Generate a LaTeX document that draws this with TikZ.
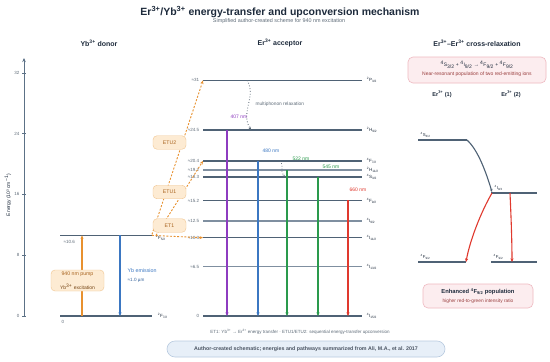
\documentclass[tikz,border=0pt]{standalone}
\usepackage{fontspec}
\setmainfont{Liberation Sans}
\usetikzlibrary{arrows.meta,calc}
\definecolor{navy}{HTML}{1E2B3C}
\definecolor{lvl}{HTML}{4F6275}
\definecolor{lvllt}{HTML}{7F8FA0}
\definecolor{axisc}{HTML}{5C7186}
\definecolor{orng}{HTML}{E8912F}
\definecolor{orbrown}{HTML}{A8631E}
\definecolor{orfill}{HTML}{FDEBD3}
\definecolor{ordraw}{HTML}{F1C58F}
\definecolor{bluec}{HTML}{3B77C2}
\definecolor{purp}{HTML}{8E3CC0}
\definecolor{grn}{HTML}{2A9A4C}
\definecolor{redc}{HTML}{E0392E}
\definecolor{pinkfill}{HTML}{FCEDEF}
\definecolor{pinkdraw}{HTML}{EEB9C0}
\definecolor{darkred}{HTML}{9A3F3F}
\definecolor{pillfill}{HTML}{E7EFF8}
\definecolor{pilldraw}{HTML}{B9CBE0}
\definecolor{graytxt}{HTML}{5E6B78}
\newcommand\fsz[1]{\fontsize{#1}{#1}\selectfont}
\newcommand\trm[3]{\textsuperscript{#1}#2\textsubscript{#3}}
\newcommand\ion[1]{#1\textsuperscript{3+}}
\tikzset{
  level/.style={draw=lvl, line width=1.4pt},
  levellt/.style={draw=lvllt, line width=1.2pt},
  llbl/.style={font=\fsz{4.5}, text=graytxt, inner sep=0.6pt, anchor=east},
  rlbl/.style={font=\fsz{4.5}, text=navy, inner sep=0.6pt, anchor=west},
  tip/.style={-{Stealth[length=3.5pt,width=3pt]}},
  trans/.style={line width=1.1pt, tip},
  etline/.style={draw=orng, line width=0.9pt, dash pattern=on 2pt off 1.6pt, tip},
  etbox/.style={draw=ordraw, fill=orfill, rounded corners=4pt, minimum width=33pt, minimum height=13.5pt, font=\fsz{5.2}, text=orbrown, inner sep=0pt},
  header/.style={font=\bfseries\fsz{7}, text=navy},
  wl/.style={font=\fsz{5}, inner sep=0.5pt},
  pinkbox/.style={draw=pinkdraw, fill=pinkfill, rounded corners=5pt, line width=0.6pt},
}
\begin{document}
\begin{tikzpicture}[x=1pt,y=-1pt]
\useasboundingbox[fill=white] (0,0) rectangle (550,362);

% titles
\node[font=\bfseries\fsz{10.5}, text=navy] (title) at (280,12) {\ion{Er}/\ion{Yb} energy-transfer and upconversion mechanism};
\node[font=\fsz{5.4}, text=graytxt] (sub) at (279,21.5) {Simplified author-created scheme for 940 nm excitation};
\node[header] (h1) at (99,43) {\ion{Yb} donor};
\node[header] (h2) at (280,43) {\ion{Er} acceptor};
\node[header] (h3) at (477,43) {\ion{Er}--\ion{Er} cross-relaxation};

% axis
\coordinate (ax0) at (24,316);
\coordinate (ax1) at (24,58);
\draw[axisc, line width=0.9pt, -{Stealth[length=4pt,width=3.5pt]}] (ax0) -- (ax1);
\foreach \v in {0,8,16,24,32}{
  \coordinate (t\v) at (24,{316-7.6*\v});
  \draw[axisc, line width=0.5pt] ($(t\v)+(-2,0)$) -- ($(t\v)+(2,0)$);
  \node[font=\fsz{4.5}, text=graytxt, anchor=east, inner sep=0.5pt] at ($(t\v)+(-4,0)$) {\v};
}
\node[font=\fsz{5}, text=navy, rotate=90] (axl) at (8,195) {Energy (10³ cm\textsuperscript{−1})};

% Yb levels
\coordinate (YbGL) at (60,316); \coordinate (YbGR) at (152,316);
\coordinate (YbEL) at (60,235.4); \coordinate (YbER) at (152,235.4);
\draw[level] (YbGL) -- (YbGR);
\draw[level] (YbEL) -- (YbER);
\node[font=\fsz{4.5}, text=graytxt, anchor=west, inner sep=0.5pt] at (63,241.5) {≈10.6};
\node[font=\fsz{4.5}, text=graytxt, anchor=west, inner sep=0.5pt] at (61,322) {0};
\node[rlbl] at (157,316) {\trm{2}{F}{7/2}};
\node[rlbl] at (155,237.5) {\trm{2}{F}{5/2}};

\coordinate (xp) at (82,0);
\coordinate (xe) at (120,0);
\draw[trans, orng] (xp |- YbGL) -- (xp |- YbEL);
\draw[trans, bluec] (xe |- YbEL) -- (xe |- YbGL);
\node[font=\fsz{5.3}, text=bluec, anchor=west, inner sep=0.5pt] at (127,271) {Yb emission};
\node[font=\fsz{4.6}, text=bluec!70!navy, anchor=west, inner sep=0.5pt] at (127,280) {≈1.0 µm};
\node[draw=ordraw, fill=orfill, rounded corners=4pt, minimum width=53pt, minimum height=21pt, inner sep=0pt, align=center] (pump) at (77.5,280.5)
  {\fsz{5.2}\textcolor{orbrown}{940 nm pump}\\[2.5pt]\fsz{5}\textcolor{orbrown!70!black}{\ion{Yb} excitation}};

% Er levels
\foreach \n/\E in {P/31, HA/24.5, FS/20.4, HB/19.2, S/18.3, FN/15.2, IA/12.5, IB/10.3, IC/6.5, ID/0}{
  \coordinate (\n L) at (203,{316-7.6*\E});
  \coordinate (\n R) at (362,{316-7.6*\E});
}
\foreach \n in {P,HA,FS,S,FN,IB,ID}{ \draw[level] (\n L) -- (\n R); }
\foreach \n in {HB,IA,IC}{ \draw[levellt] (\n L) -- (\n R); }
\foreach \n/\t in {P/≈31, HA/≈24.5, FS/≈20.4, HB/≈19.2, S/≈18.3, FN/≈15.2, IA/≈12.5, IB/≈10.3, IC/≈6.5, ID/0}{
  \node[llbl] at ($(\n L)+(-3,0)$) {\t};
}
\node[rlbl] at ($(PR)+(4,0)$) {\trm{2}{P}{3/2}};
\node[rlbl] at ($(HAR)+(4,0)$) {\trm{2}{H}{9/2}};
\node[rlbl] at ($(FSR)+(4,0)$) {\trm{4}{F}{7/2}};
\node[rlbl] at ($(HBR)+(4,0)$) {\trm{2}{H}{11/2}};
\node[rlbl] at ($(SR)+(4,0)$) {\trm{4}{S}{3/2}};
\node[rlbl] at ($(FNR)+(4,0)$) {\trm{4}{F}{9/2}};
\node[rlbl] at ($(IAR)+(4,0)$) {\trm{4}{I}{9/2}};
\node[rlbl] at ($(IBR)+(4,0)$) {\trm{4}{I}{11/2}};
\node[rlbl] at ($(ICR)+(4,0)$) {\trm{4}{I}{13/2}};
\node[rlbl] at ($(IDR)+(4,0)$) {\trm{4}{I}{15/2}};

% emission transitions
\coordinate (x407) at (227,0); \coordinate (x480) at (258,0);
\coordinate (x522) at (287,0); \coordinate (x545) at (318,0);
\coordinate (x660) at (348,0);
\draw[trans, purp] (x407 |- HAL) -- (x407 |- IDL);
\draw[trans, bluec] (x480 |- FSL) -- (x480 |- IDL);
\draw[trans, grn] (x522 |- HBL) -- (x522 |- IDL);
\draw[trans, grn] (x545 |- SL) -- (x545 |- IDL);
\draw[trans, redc] (x660 |- FNL) -- (x660 |- IDL);
\node[wl, text=purp] at (239,117) {407 nm};
\node[wl, text=bluec] at (271,150.5) {480 nm};
\node[wl, text=grn] at (301,158.5) {522 nm};
\node[wl, text=grn] at (331,166.5) {545 nm};
\node[wl, text=redc] at (358,190) {660 nm};

% multiphonon relaxation
\coordinate (mpa) at (247,0); \coordinate (mpb) at (251,0);
\draw[graytxt, line width=0.8pt, dotted, -{Stealth[length=3pt,width=2.6pt]}]
  (mpa |- PL) .. controls (257,96) and (240,112) .. (mpb |- HAL);
\node[font=\fsz{4.8}, text=graytxt, anchor=west, inner sep=0.5pt] at (255,104) {multiphonon relaxation};
\coordinate (mpc) at (280,0); \coordinate (mpd) at (285,0);
\draw[graytxt, line width=0.7pt, dotted, -{Stealth[length=2.5pt,width=2.2pt]}]
  (mpc |- FSL) .. controls (285,167) and (279,171) .. (mpd |- SL);

% energy transfer
\draw[etline] (YbER) -- (IBL);
\draw[etline] ($(YbER)+(4,0)$) -- (FSL);
\draw[etline] ($(YbER)+(0,-1)$) -- (PL);
\node[etbox] (etu2) at (169.5,142.5) {ETU2};
\node[etbox] (etu1) at (169.5,192) {ETU1};
\node[etbox] (et1) at (169.5,225.5) {ET1};

% cross-relaxation panel
\node[pinkbox, minimum width=138pt, minimum height=26pt] (crbox) at (477,70) {};
\node[font=\fsz{5}, text=navy] at (477,64.5) {\trm{4}{S}{3/2} + \trm{4}{I}{9/2} → \trm{4}{F}{9/2} + \trm{4}{F}{9/2}};
\node[font=\fsz{5}, text=darkred] at (477,74.5) {Near-resonant population of two red-emitting ions};
\node[font=\bfseries\fsz{5.6}, text=navy] (er1) at (442,94) {\ion{Er} (1)};
\node[font=\bfseries\fsz{5.6}, text=navy] (er2) at (511,94) {\ion{Er} (2)};

\coordinate (S1L) at (418,140); \coordinate (S1R) at (467,140);
\coordinate (I2L) at (491,193); \coordinate (I2R) at (537,193);
\coordinate (F1L) at (418,262); \coordinate (F1R) at (466,262);
\coordinate (F2L) at (491,262); \coordinate (F2R) at (537,262);
\draw[level] (S1L) -- (S1R);
\draw[level] (I2L) -- (I2R);
\draw[level] (F1L) -- (F1R);
\draw[level] (F2L) -- (F2R);
\node[font=\fsz{4.3}, text=navy, anchor=south west, inner sep=0.5pt] at ($(S1L)+(2,-2)$) {\trm{4}{S}{3/2}};
\node[font=\fsz{4.3}, text=navy, anchor=south west, inner sep=0.5pt] at ($(I2L)+(3,-2)$) {\trm{4}{I}{9/2}};
\node[font=\fsz{4.3}, text=navy, anchor=south west, inner sep=0.5pt] at ($(F1L)+(2,-2)$) {\trm{4}{F}{9/2}};
\node[font=\fsz{4.3}, text=navy, anchor=south west, inner sep=0.5pt] at ($(F2L)+(2,-2)$) {\trm{4}{F}{9/2}};
\draw[lvl, line width=1.1pt, -{Stealth[length=3pt,width=2.6pt]}] (S1R) .. controls (478,150) and (486,172) .. ($(I2L)+(1,-1)$);
\draw[redc, line width=1.1pt, -{Stealth[length=3.5pt,width=3pt]}] ($(I2L)+(1,0)$) .. controls (481,212) and (470,240) .. (F1R);
\draw[redc, line width=1.1pt, -{Stealth[length=3.5pt,width=3pt]}] ($(I2L)+(19,0)$) .. controls (511,215) and (512,240) .. ($(F2L)+(21,0)$);

\node[pinkbox, minimum width=110pt, minimum height=24pt] (enh) at (478,296) {};
\node[font=\bfseries\fsz{5.8}, text=navy] at (478,291.5) {Enhanced \trm{4}{F}{9/2} population};
\node[font=\fsz{4.8}, text=darkred] at (478,301) {higher red-to-green intensity ratio};

% footer
\node[font=\fsz{4.5}, text=graytxt] (foot) at (300,332) {ET1: \ion{Yb} → \ion{Er} energy transfer · ETU1/ETU2: sequential energy-transfer upconversion};
\node[draw=pilldraw, fill=pillfill, rounded corners=8pt, minimum width=278pt, minimum height=16pt, line width=0.6pt, font=\bfseries\fsz{5.3}, text=navy!80!white] (pill) at (306,349)
  {Author-created schematic; energies and pathways summarized from Ali, M.A., et al. 2017};
\end{tikzpicture}
\end{document}
